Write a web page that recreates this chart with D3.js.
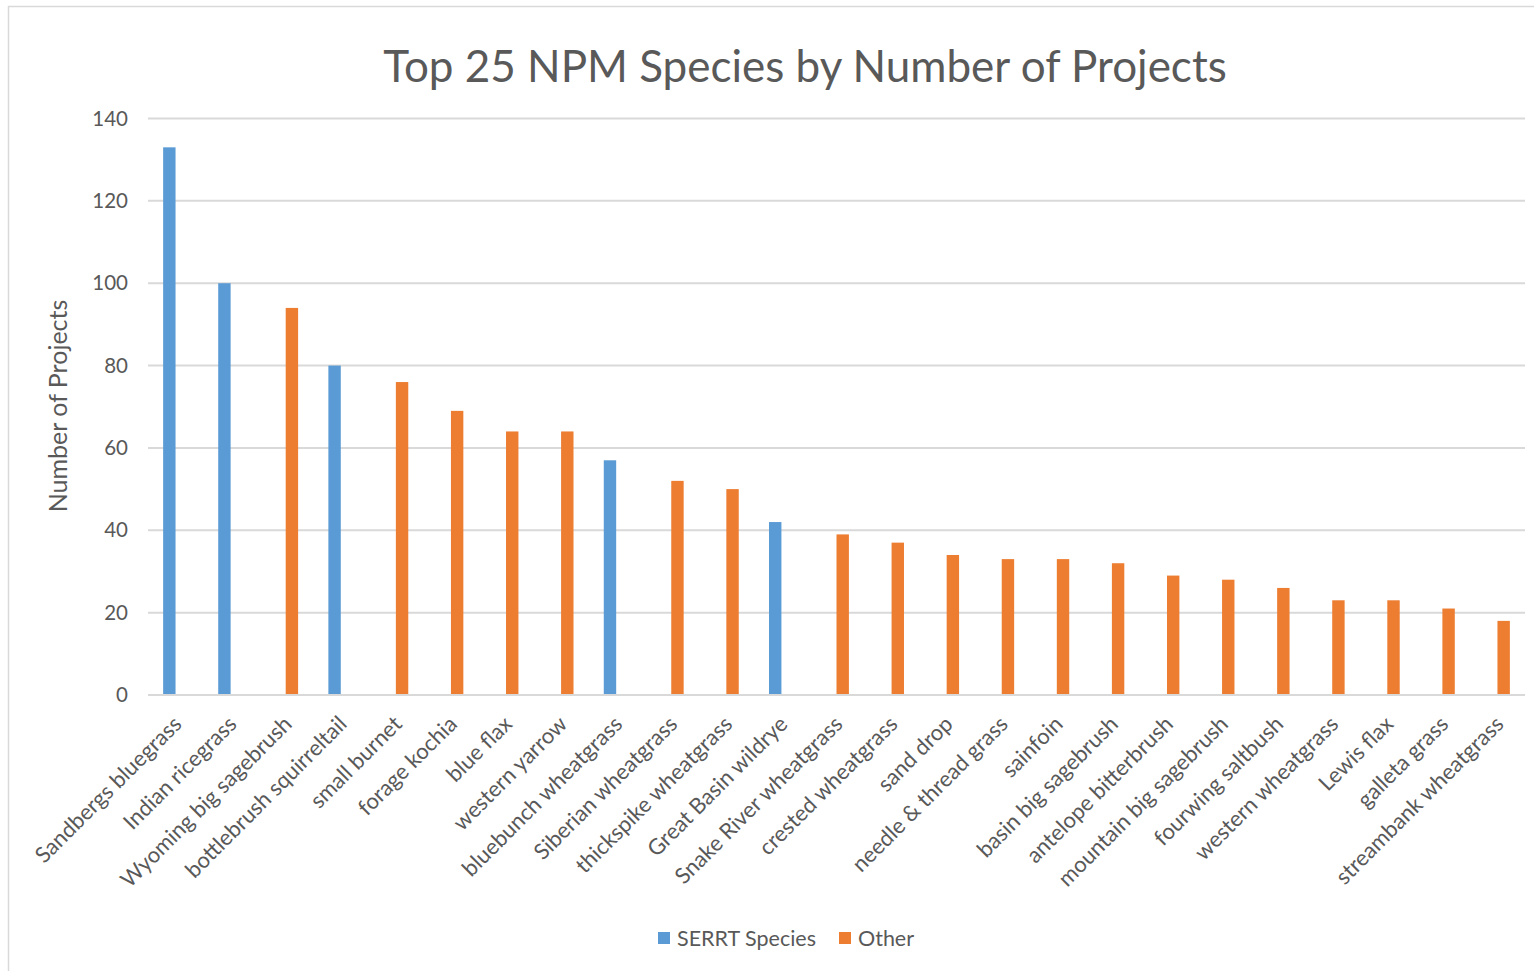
<!DOCTYPE html>
<html>
<head>
<meta charset="utf-8">
<script src="https://cdn.jsdelivr.net/npm/d3@7"></script>
<style>
  body { margin: 0; background: #fff; }
  text { font-family: Lato, "Open Sans", sans-serif; fill: #595959; }
</style>
</head>
<body>
<div class="container"></div>
<script>
// chart data
const species = [
  "Sandbergs bluegrass", "Indian ricegrass", "Wyoming big sagebrush", "bottlebrush squirreltail",
  "small burnet", "forage kochia", "blue flax", "western yarrow", "bluebunch wheatgrass",
  "Siberian wheatgrass", "thickspike wheatgrass", "Great Basin wildrye", "Snake River wheatgrass",
  "crested wheatgrass", "sand drop", "needle & thread grass", "sainfoin", "basin big sagebrush",
  "antelope bitterbrush", "mountain big sagebrush", "fourwing saltbush", "western wheatgrass",
  "Lewis flax", "galleta grass", "streambank wheatgrass"
];
// number of projects per species
const projects = [133, 100, 94, 80, 76, 69, 64, 64, 57, 52, 50, 42, 39, 37, 34, 33, 33, 32, 29, 28, 26, 23, 23, 21, 18];
// which species are SERRT species
const serrt = ["Sandbergs bluegrass", "Indian ricegrass", "bottlebrush squirreltail", "bluebunch wheatgrass", "Great Basin wildrye"];
const seriesNames = ["SERRT Species", "Other"];
const yTicks = [0, 20, 40, 60, 80, 100, 120, 140];
const colors = { "SERRT Species": "#5B9BD5", "Other": "#ED7D31" };

const width = 1534, height = 971;
const plotLeft = 148, plotRight = 1525, plotTop = 118.5, plotBottom = 695;

const svg = d3.select('.container')
  .append('svg')
  .attr('width', width)
  .attr('height', height);

// chart border (left and top visible)
svg.append('path')
  .attr('d', `M8.5,${height} V6.5 H${width}`)
  .attr('fill', 'none')
  .attr('stroke', '#d9d9d9')
  .attr('stroke-width', 1.5);

const x0 = d3.scaleBand().domain(species).range([plotLeft, plotRight]).padding(0);
const x1 = d3.scaleBand().domain(seriesNames).range([0, x0.bandwidth()]).paddingInner(0).paddingOuter(1.22);
const y = d3.scaleLinear().domain([0, 140]).range([plotBottom, plotTop]);

// gridlines
svg.append('g')
  .selectAll('line')
  .data(yTicks)
  .enter()
  .append('line')
  .attr('x1', plotLeft)
  .attr('x2', plotRight)
  .attr('y1', d => y(d))
  .attr('y2', d => y(d))
  .attr('stroke', '#d9d9d9')
  .attr('stroke-width', 2);

// y axis labels
const yAxis = d3.axisLeft(y).tickValues(yTicks).tickSize(0).tickPadding(0);
const yg = svg.append('g')
  .attr('transform', `translate(128,0)`)
  .call(yAxis);
yg.select('.domain').remove();
yg.attr('font-family', null);
yg.selectAll('text')
  .style('font-size', '20.5px')
  .attr('fill', '#595959');

// bars
const rows = species.map((s, i) => ({
  name: s,
  value: projects[i],
  series: serrt.includes(s) ? "SERRT Species" : "Other"
}));

svg.append('g')
  .selectAll('rect')
  .data(rows)
  .enter()
  .append('rect')
  .attr('x', d => x0(d.name) + x1(d.series))
  .attr('width', x1.bandwidth())
  .attr('y', d => y(d.value))
  .attr('height', d => y(0) - y(d.value))
  .style('fill', d => colors[d.series]);

// x axis line
svg.append('line')
  .attr('x1', plotLeft)
  .attr('x2', plotRight)
  .attr('y1', y(0))
  .attr('y2', y(0))
  .attr('stroke', '#d9d9d9')
  .attr('stroke-width', 2);

// category labels
svg.append('g')
  .selectAll('text')
  .data(species)
  .enter()
  .append('text')
  .attr('transform', d => `translate(${x0(d) + x0.bandwidth() / 2 + 2},${plotBottom + 25}) rotate(-45)`)
  .attr('text-anchor', 'end')
  .attr('dy', '0.35em')
  .style('font-size', '22px')
  .text(d => d);

// title
svg.append('text')
  .attr('x', 805)
  .attr('y', 82)
  .attr('text-anchor', 'middle')
  .style('font-size', '44px')
  .text('Top 25 NPM Species by Number of Projects');

// y axis title
svg.append('text')
  .attr('transform', 'translate(67,406) rotate(-90)')
  .attr('text-anchor', 'middle')
  .style('font-size', '25px')
  .text('Number of Projects');

// legend
const legend = svg.append('g').attr('id', 'legend');
const legendX = [658, 839];
seriesNames.forEach((s, i) => {
  legend.append('rect')
    .attr('x', legendX[i])
    .attr('y', 932)
    .attr('width', 12)
    .attr('height', 12)
    .style('fill', colors[s]);
  legend.append('text')
    .attr('x', legendX[i] + 19)
    .attr('y', 946)
    .style('font-size', '21.5px')
    .text(s);
});
</script>
</body>
</html>
